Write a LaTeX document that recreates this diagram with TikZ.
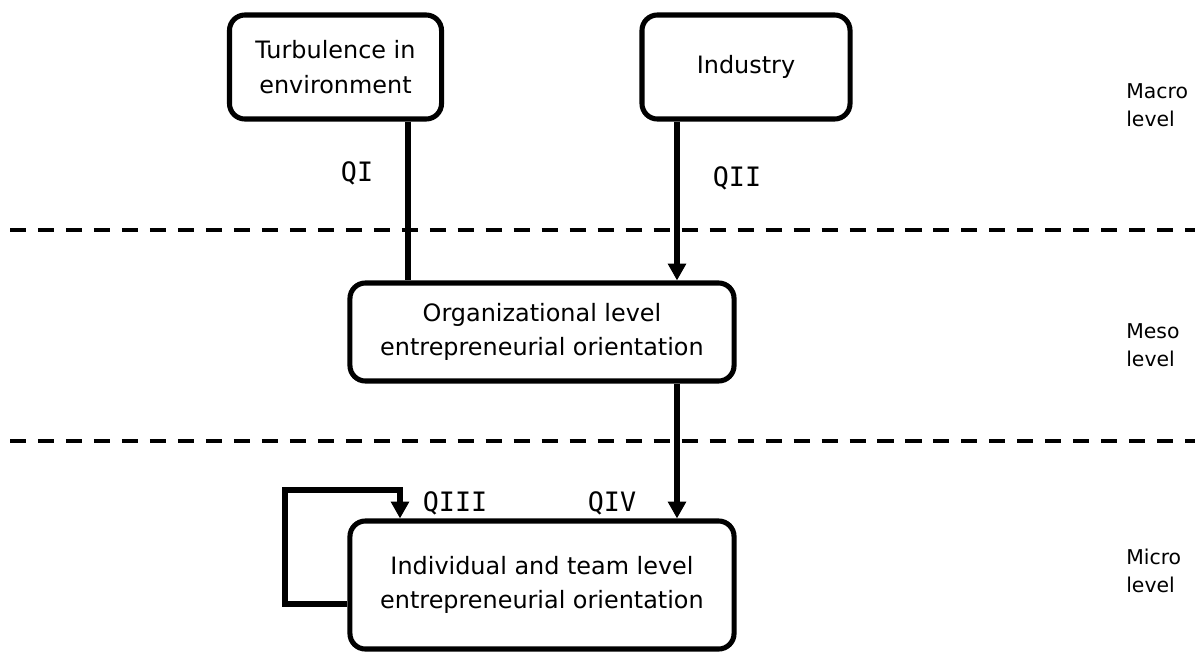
\documentclass[tikz,border=0pt]{standalone}
\usepackage{fontspec}
\setmainfont{DejaVu Sans}
\newfontfamily\qfont{DejaVu Sans Mono}
\usetikzlibrary{arrows.meta, positioning}
\tikzset{
	box/.style={draw, line width=3.6pt, rounded corners=11pt, align=center, inner sep=0pt,
		font=\fontsize{17}{24.5}\selectfont},
	link/.style={line width=3.6pt},
	arr/.style={link, -{Triangle[length=12pt,width=12.5pt]}},
	divider/.style={line width=2.8pt, dash pattern=on 11.4pt off 8.5pt},
	qlabel/.style={font=\qfont\fontsize{19}{22}\selectfont},
	level/.style={anchor=west, align=left, inner sep=0pt, font=\fontsize{14.5}{20}\selectfont}
}

\begin{document}
\begin{tikzpicture}[x=0.025cm, y=-0.025cm]
	\useasboundingbox (0,0) rectangle (1195,652);

	% --- Level dividers ---
	\foreach \y in {230, 441} \draw[divider] (10,\y) -- (1195,\y);

	% --- Boxes ---
	\node[box, minimum width=5.3cm, minimum height=2.6cm] (turb) at (335.5,67) {Turbulence in\\environment};
	\node[box, minimum width=5.2cm, minimum height=2.6cm] (ind) at (746,67) {Industry};
	\node[box, minimum width=9.6cm, minimum height=2.45cm] (org) at (542,332) {Organizational level\\entrepreneurial orientation};
	\node[box, minimum width=9.6cm, minimum height=3.2cm] (indiv) at (542,585) {Individual and team level\\entrepreneurial orientation};

	% Connector columns
	\coordinate (cI) at (408,0);
	\coordinate (cII) at (677,0);
	\coordinate (loopout) at (0,604);
	\coordinate (looptop) at (285,490);
	\coordinate (loopin) at (400,0);

	% --- Connectors ---
	\draw[link] (turb.south -| cI) -- (org.north -| cI);
	\draw[arr] (ind.south -| cII) -- (org.north -| cII);
	\draw[arr] (org.south -| cII) -- (indiv.north -| cII);
	\draw[arr] (indiv.west |- loopout) -| (looptop) -| (indiv.north -| loopin);

	% Labels
	\node[qlabel] (qI) at (357,173) {QI};
	\node[qlabel] (qII) at (737,178) {QII};
	\node[qlabel] (qIII) at (455,503) {QIII};
	\node[qlabel] (qIV) at (612,503) {QIV};

	% --- Levels ---
	\node[level] (macro) at (1126,105) {Macro\\level};
	\node[level] (meso) at (1126,345) {Meso\\level};
	\node[level] (micro) at (1126,571) {Micro\\level};
\end{tikzpicture}
\end{document}
